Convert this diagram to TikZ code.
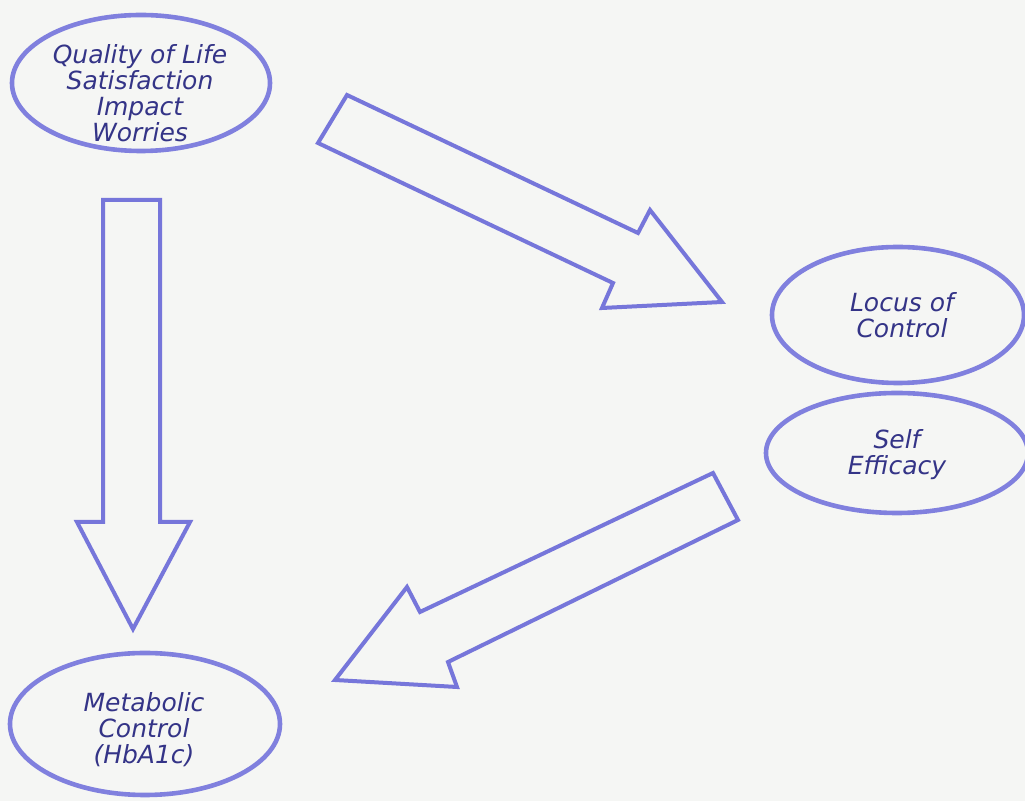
\documentclass[tikz,border=0pt]{standalone}
\usepackage{fontspec}
\setmainfont{DejaVu Sans}
\usetikzlibrary{shapes.geometric}
\definecolor{bgc}{RGB}{245,246,244}
\definecolor{linec}{RGB}{118,118,218}
\definecolor{ellc}{RGB}{128,128,222}
\definecolor{txtc}{RGB}{52,52,135}
\tikzset{
  bubble/.style={ellipse, draw=ellc, line width=2.3pt, fill=bgc, inner sep=0pt},
  label/.style={text=txtc, align=center, font=\fontsize{12.5}{13}\selectfont\itshape},
  blockarrow/.style={draw=linec, line width=2pt, line join=miter, fill=bgc}
}
\begin{document}
\begin{tikzpicture}[x=0.5pt,y=-0.5pt]
\fill[bgc] (0,0) rectangle (1025,801);
\useasboundingbox (0,0) rectangle (1025,801);

% ellipses (sizes in pt = half of pixels)
\node[bubble, minimum width=129pt, minimum height=68pt] (qol) at (141,83) {};
\node[label] (qoltext) at (140,93) {Quality of Life\\Satisfaction\\Impact\\Worries};

\node[bubble, minimum width=131pt, minimum height=60pt] (self) at (897,453) {};
\node[label] (selftext) at (897,455) {Self\\Efficacy};

\node[bubble, minimum width=126pt, minimum height=68pt] (loc) at (898,315) {};
\node[label] (loctext) at (902,315) {Locus of\\Control};

\node[bubble, minimum width=135pt, minimum height=71pt] (met) at (145,724) {};
\node[label] (mettext) at (144,730) {Metabolic\\Control\\(HbA1c)};

% block arrows
\draw[blockarrow] (103,200) -- (160,200) -- (160,522) -- (190,522) -- (133,629) -- (77,522) -- (103,522) -- cycle;
\draw[blockarrow] (347,95) -- (638,233) -- (650,210) -- (722,302) -- (602,308) -- (613,283) -- (318,143) -- cycle;
\draw[blockarrow] (713,473) -- (738,520) -- (448,662) -- (457,687) -- (335,680) -- (407,587) -- (420,612) -- cycle;
\end{tikzpicture}
\end{document}
